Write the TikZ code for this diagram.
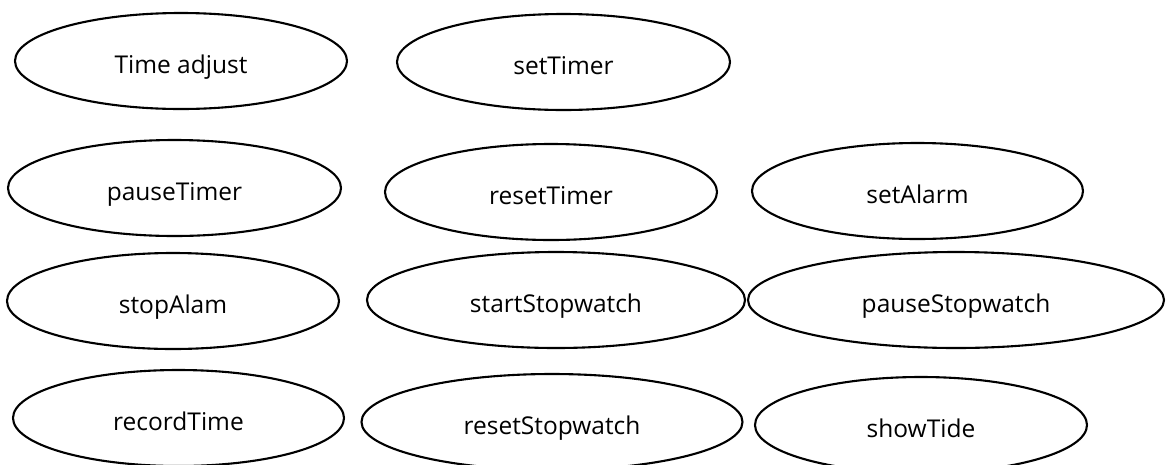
\documentclass[tikz,border=0pt]{standalone}
\usepackage{fontspec}
\setmainfont{Open Sans}
\usetikzlibrary{shapes.geometric}
\begin{document}
\begin{tikzpicture}[x=1pt,y=-1pt,
  uc/.style={draw=black, line width=2.1pt, ellipse, inner sep=0pt,
    minimum height=96pt, text height=26pt, text depth=2pt,
    font=\fontsize{24.5}{28}\selectfont},
  w/.style={minimum width=#1pt}]
\useasboundingbox (0,0) rectangle (1167,464);
\node[uc,w=332] (ta) at (181,61) {Time adjust};
\node[uc,w=333] (st) at (563.5,62) {setTimer};
\node[uc,w=333] (pt) at (174.5,188) {pauseTimer};
\node[uc,w=332] (rt) at (551,192) {resetTimer};
\node[uc,w=331] (sa) at (917.5,191) {setAlarm};
\node[uc,w=332] (sal) at (173,301) {stopAlam};
\node[uc,w=378] (ssw) at (556,300) {startStopwatch};
\node[uc,w=416] (psw) at (956,300) {pauseStopwatch};
\node[uc,w=331] (rec) at (178.5,418) {recordTime};
\node[uc,w=381] (rsw) at (552,422) {resetStopwatch};
\node[uc,w=332] (tide) at (921,425) {showTide};
\end{tikzpicture}
\end{document}
